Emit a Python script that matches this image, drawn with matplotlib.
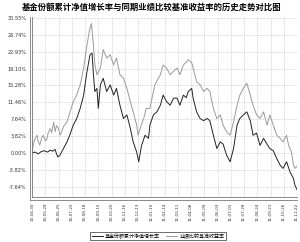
import matplotlib
matplotlib.use("Agg")
from matplotlib import pyplot as plt
from matplotlib.lines import Line2D

plt.rcParams['font.family'] = ['Noto Sans CJK SC', 'DejaVu Sans']

title = "基金份额累计净值增长率与同期业绩比较基准收益率的历史走势对比图"
fund_name = "基金份额累计净值增长率"
bench_name = "业绩比较基准收益率"

# trading-day index / cumulative return (%)
fund_days = [0, 4, 9, 13, 17, 22, 26, 30, 33, 35, 37, 40, 45, 50, 54, 59, 64, 69, 74, 78,
             83, 86, 88, 90, 93, 95, 98, 102, 107, 112, 117, 121, 126, 131, 136, 141, 145,
             150, 153, 157, 162, 167, 169, 174, 179, 184, 188, 193, 198, 203, 208, 212, 217,
             221, 224, 229, 231, 236, 241, 246, 251, 255, 260, 265, 270, 274, 279, 284, 289,
             294, 298, 303, 308, 313, 317, 322, 327, 332, 337, 341, 346, 351, 356, 360, 365,
             370, 375, 377, 380]
fund_ret = [0.0, 0.2, -0.2, 0.3, 0.5, 0.2, 0.6, 0.4, 0.8, -0.2, -0.9, -0.5, 1.0, 2.5, 4.0,
            6.3, 7.8, 10.1, 13.1, 17.7, 22.2, 22.6, 17.7, 13.9, 14.6, 10.1, 15.4, 16.9, 13.9,
            15.4, 13.1, 14.6, 10.8, 7.8, 8.6, 5.5, 2.5, 0.2, -2.0, 1.7, 4.0, 3.3, 6.3, 8.6,
            9.3, 10.8, 13.1, 11.6, 10.8, 12.4, 12.4, 10.8, 13.1, 12.5, 13.9, 14.6, 12.4, 9.3,
            7.8, 7.3, 7.8, 7.3, 4.0, 1.0, 2.5, 2.0, -0.5, -2.0, 1.0, 6.3, 7.8, 8.6, 9.3, 7.3,
            4.0, 4.5, 1.7, 3.3, 2.0, 1.0, 0.5, -1.3, -2.8, -3.5, -2.0, -4.3, -5.8, -7.3, -8.3]

bench_days = [0, 3, 7, 9, 11, 14, 16, 19, 21, 23, 26, 28, 31, 33, 35, 38, 40, 43, 45, 50,
              54, 59, 64, 69, 74, 78, 82, 85, 88, 90, 93, 98, 102, 107, 112, 117, 121, 126,
              131, 136, 141, 145, 150, 152, 155, 160, 164, 169, 172, 176, 184, 188, 193, 198,
              203, 208, 212, 217, 221, 224, 229, 231, 236, 241, 246, 251, 255, 260, 265, 270,
              274, 279, 284, 289, 294, 298, 303, 308, 313, 317, 322, 327, 332, 337, 341, 346,
              351, 356, 360, 365, 368, 372, 375, 377, 380]
bench_ret = [0.3, 2.8, 4.0, 2.5, 1.8, 3.5, 4.0, 2.8, 3.0, 4.5, 5.5, 4.6, 7.0, 4.8, 6.2, 5.5,
             4.0, 5.0, 6.0, 7.0, 9.0, 11.6, 13.1, 15.4, 19.2, 23.7, 27.5, 29.3, 24.5, 20.0,
             17.7, 19.2, 23.4, 21.5, 22.2, 19.9, 21.5, 17.7, 16.9, 14.6, 11.6, 9.3, 6.3, 4.0,
             5.5, 7.8, 10.1, 10.1, 12.4, 15.4, 17.7, 19.9, 19.2, 17.7, 18.5, 19.2, 17.7, 19.9,
             20.5, 21.1, 20.4, 19.2, 16.1, 15.4, 13.9, 14.6, 13.9, 10.1, 7.8, 8.6, 6.3, 4.8,
             4.0, 7.0, 10.8, 13.1, 14.6, 15.8, 13.1, 10.8, 8.6, 7.8, 9.3, 6.3, 8.6, 6.3, 4.0,
             3.3, 2.5, 4.0, 1.7, 0.2, -2.8, -3.5, -3.0]

ytick_vals = [-7.64, -3.82, 0.0, 3.82, 7.64, 11.46, 15.28, 19.10, 22.92, 26.74, 30.55]
ytick_labels = ["-7.64%", "-3.82%", "0.00%", "3.82%", "7.64%", "11.46%", "15.28%",
                "19.10%", "22.93%", "26.74%", "30.55%"]
xtick_labels = ["10-04-30", "10-05-28", "10-06-25", "10-07-22", "10-08-18", "10-09-15",
                "10-10-20", "10-11-16", "10-12-13", "11-01-10", "11-02-14", "11-03-11",
                "11-04-08", "11-05-09", "11-06-03", "11-07-01", "11-07-28", "11-08-24",
                "11-09-21", "11-10-26", "11-11-22"]
xtick_pos = [i * 19 for i in range(len(xtick_labels))]

fig = plt.figure(figsize=(3.0, 2.42), dpi=100)
ax = fig.add_axes([0.107, 0.186, 0.883, 0.744])

ax.plot(bench_days, bench_ret, color='#9a9a9a', lw=0.7, label=bench_name)
ax.plot(fund_days, fund_ret, color='#222222', lw=0.7, label=fund_name)

ax.set_xlim(0, 380)
ax.set_ylim(-9.97, 30.78)
ax.set_yticks(ytick_vals)
ax.set_yticklabels(ytick_labels, fontsize=3.6, color='#333333', family='DejaVu Sans')
ax.set_xticks(xtick_pos)
ax.set_xticklabels(xtick_labels, rotation=90, fontsize=3.0, color='#333333',
                   family='DejaVu Sans')
ax.tick_params(axis='both', length=0, pad=4)
ax.grid(True, color='#b5b5b5', ls=(0, (1, 1.5)), lw=0.5)

for s in ['top', 'right']:
    ax.spines[s].set_visible(False)
for s in ['left', 'bottom']:
    ax.spines[s].set_color('#777777')
    ax.spines[s].set_linewidth(0.6)

# outer line of the double frame
fig.add_artist(Line2D([29.5 / 300, 29.5 / 300], [1 - 17 / 242, 1 - 200 / 242],
                      color='#777777', lw=0.6))
fig.add_artist(Line2D([29.5 / 300, 297 / 300], [1 - 200 / 242, 1 - 200 / 242],
                      color='#777777', lw=0.6))

fig.text(0.505, 0.968, title, ha='center', va='center', fontsize=6.0, fontweight='bold')

h, l = ax.get_legend_handles_labels()
leg = fig.legend(h[::-1], l[::-1], loc='center', bbox_to_anchor=(0.527, 0.024), ncol=2,
                 fontsize=3.6, frameon=True, fancybox=False, handlelength=2.2,
                 columnspacing=1.2, handletextpad=0.5, borderpad=0.3)
leg.get_frame().set_edgecolor('black')
leg.get_frame().set_linewidth(0.5)

fig.savefig("out.png", dpi=100)
